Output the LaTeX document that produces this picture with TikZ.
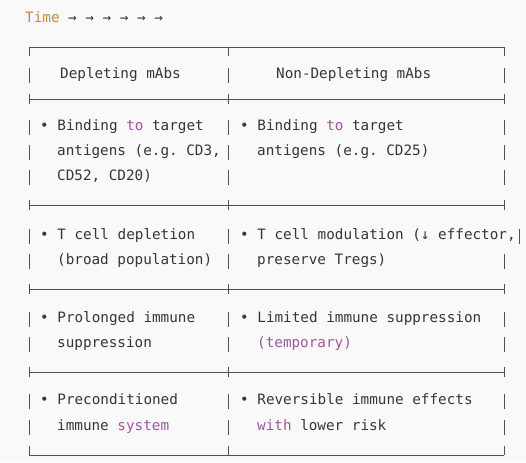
\documentclass[tikz,border=0pt]{standalone}
\usepackage{fontspec}
\setmonofont{DejaVu Sans Mono}
\definecolor{bg}{HTML}{F9F9F9}
\definecolor{txt}{HTML}{363636}
\definecolor{rulec}{HTML}{505050}
\definecolor{kw}{HTML}{A0559E}
\definecolor{tm}{HTML}{B98D45}
\newcommand{\kwd}[1]{\textcolor{kw}{#1}}
\begin{document}
\begin{tikzpicture}[x=1pt,y=-1pt,
  txtn/.style={anchor=west, inner sep=0pt, text=txt,
    font=\ttfamily\fontsize{14.3}{16}\selectfont, text height=1.6ex, text depth=0.3ex},
  ln/.style={draw=rulec, line width=0.7pt}]
\fill[bg] (0,0) rectangle (526,462);
\useasboundingbox (0,0) rectangle (526,462);

% title
\node[txtn] (time) at (25,20) {\textcolor{tm}{Time} → → → → → →};

% horizontal rules
\foreach \yy in {47,99,205,289,372,455}
  \draw[ln] (29,\yy) -- (504,\yy);
% ticks top
\foreach \xx in {29,228,504}
  \draw[ln] (\xx,47) -- (\xx,56);
% ticks separators
\foreach \yy in {99,205,289,372}
  \foreach \xx in {29,228,504}
    \draw[ln] (\xx,\yy-5) -- (\xx,\yy+5);
% ticks bottom
\foreach \xx in {29,228,504}
  \draw[ln] (\xx,446) -- (\xx,455);

% bars on text rows
\foreach \yy in {76,128,153,178,262,320,345,402,428}
  \foreach \xx in {29,228,504}
    \draw[ln] (\xx,\yy-8) -- (\xx,\yy+7);
\draw[ln] (29,229) -- (29,244);
\draw[ln] (228,229) -- (228,244);
\draw[ln] (519,229) -- (519,244);

% header
\node[txtn] (h1) at (60,76) {Depleting mAbs};
\node[txtn] (h2) at (276,76) {Non-Depleting mAbs};

% row 1
\node[txtn] (l1a) at (40,128) {• Binding \kwd{to} target};
\node[txtn] (l1b) at (57,153) {antigens (e.g. CD3,};
\node[txtn] (l1c) at (57,178) {CD52, CD20)};
\node[txtn] (r1a) at (240,128) {• Binding \kwd{to} target};
\node[txtn] (r1b) at (257,153) {antigens (e.g. CD25)};

% row 2
\node[txtn] (l2a) at (40,237) {• T cell depletion};
\node[txtn] (l2b) at (57,262) {(broad population)};
\node[txtn] (r2a) at (240,237) {• T cell modulation (↓ effector,};
\node[txtn] (r2b) at (257,262) {preserve Tregs)};

% row 3
\node[txtn] (l3a) at (40,320) {• Prolonged immune};
\node[txtn] (l3b) at (57,345) {suppression};
\node[txtn] (r3a) at (240,320) {• Limited immune suppression};
\node[txtn] (r3b) at (257,345) {\kwd{(temporary)}};

% row 4
\node[txtn] (l4a) at (40,402) {• Preconditioned};
\node[txtn] (l4b) at (57,428) {immune \kwd{system}};
\node[txtn] (r4a) at (240,402) {• Reversible immune effects};
\node[txtn] (r4b) at (257,428) {\kwd{with} lower risk};
\end{tikzpicture}
\end{document}
